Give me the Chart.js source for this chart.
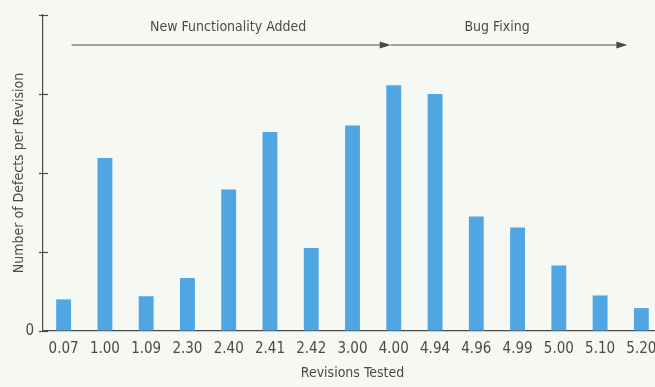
<!DOCTYPE html>
<html>
<head>
<meta charset="utf-8">
<script src="https://cdn.jsdelivr.net/npm/chart.js@4.4.1/dist/chart.umd.min.js"></script>
<style>
  html, body { margin: 0; padding: 0; background: #f6f8f3; overflow: hidden; }
  #wrap { width: 662px; height: 387px; }
</style>
</head>
<body>
<div id="wrap"><canvas id="chart" width="662" height="387"></canvas></div>
<script>
// revisions tested and defects found in each
const revisions = ["0.07", "1.00", "1.09", "2.30", "2.40", "2.41", "2.42", "3.00", "4.00", "4.94", "4.96", "4.99", "5.00", "5.10", "5.20"];
const defects = [4.0, 21.9, 4.4, 6.7, 17.9, 25.2, 10.5, 26.0, 31.1, 30.0, 14.5, 13.1, 8.3, 4.5, 2.9];
const yTicks = [0, 10, 20, 30, 40];
const phases = ["New Functionality Added", "Bug Fixing"];

const FONT = "'Liberation Sans Narrow', 'DejaVu Sans Condensed', 'Roboto', sans-serif";
const INK = "#4a4a4a";

// tick marks crossing the y axis + the two phase arrows on top
const annotations = {
    id: "annotations",
    afterDraw(chart) {
        const ctx = chart.ctx;
        const x = chart.scales.x;
        const y = chart.scales.y;

        ctx.save();
        ctx.strokeStyle = INK;
        ctx.lineWidth = 1.2;
        yTicks.forEach(v => {
            const py = Math.round(y.getPixelForValue(v)) + 0.5;
            ctx.beginPath();
            ctx.moveTo(y.right - 4, py);
            ctx.lineTo(y.right + 5, py);
            ctx.stroke();
        });

        const ay = 45;
        const start = x.getPixelForValue(0) + 8;
        const mid = x.getPixelForValue(8) - 3;
        const end = x.getPixelForValue(14) - 14;

        function arrow(x0, x1) {
            ctx.beginPath();
            ctx.moveTo(x0, ay);
            ctx.lineTo(x1 - 6, ay);
            ctx.stroke();
            ctx.beginPath();
            ctx.moveTo(x1, ay);
            ctx.lineTo(x1 - 11, ay - 3.5);
            ctx.lineTo(x1 - 11, ay + 3.5);
            ctx.closePath();
            ctx.fill();
        }
        ctx.fillStyle = INK;
        arrow(start, mid);
        arrow(mid, end);

        ctx.font = "14px " + FONT;
        ctx.textAlign = "center";
        ctx.textBaseline = "middle";
        ctx.fillText(phases[0], (start + mid) / 2 - 3, 27);
        ctx.fillText(phases[1], (mid + end) / 2 - 12, 27);
        ctx.restore();
    }
};

new Chart(document.getElementById("chart"), {
    type: "bar",
    data: {
        labels: revisions,
        datasets: [{
            data: defects,
            backgroundColor: "#4fa6e3",
            borderWidth: 0,
            barPercentage: 0.36,
            categoryPercentage: 1,
        }],
    },
    options: {
        responsive: false,
        animation: false,
        layout: { padding: { top: 15, right: 0, left: 3, bottom: 0 } },
        plugins: {
            legend: { display: false },
            tooltip: { enabled: false },
        },
        scales: {
            x: {
                grid: { display: false, drawTicks: false },
                border: { display: true, color: INK, width: 1.2 },
                ticks: { color: INK, padding: 9, maxRotation: 0, autoSkip: false, font: { family: FONT, size: 15 } },
                title: { display: true, text: "Revisions Tested", color: INK, padding: { top: 0, bottom: 5 }, font: { family: FONT, size: 14 } },
                afterFit(scale) {
                    scale.height = 56;
                    scale.paddingLeft = 0;
                    scale.paddingRight = 0;
                },
            },
            y: {
                min: 0,
                max: 40,
                grid: { display: true, drawOnChartArea: false, drawTicks: false },
                border: { display: true, color: INK, width: 1.2 },
                ticks: {
                    stepSize: 10,
                    padding: 9,
                    color: INK,
                    font: { family: FONT, size: 15 },
                    callback: v => (v === 0 ? "0" : ""),
                },
                title: { display: true, text: "Number of Defects per Revision", color: INK, padding: { top: 8, bottom: 0 }, font: { family: FONT, size: 14 } },
                afterFit(scale) {
                    scale.width = 40;
                    scale.paddingTop = 0;
                    scale.paddingBottom = 0;
                },
            },
        },
    },
    plugins: [annotations],
});
</script>
</body>
</html>
